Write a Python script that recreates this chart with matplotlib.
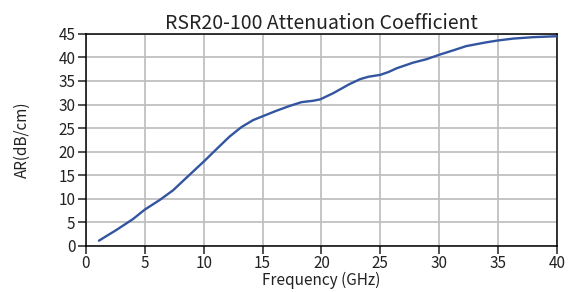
import matplotlib
matplotlib.use('Agg')
import matplotlib.pyplot as plt
import numpy as np

plt.rcParams['font.family'] = ['Noto Sans CJK SC', 'DejaVu Sans']

# curve
freq = [1.1, 2.6, 4.0, 5.0, 6.3, 7.4, 8.55, 10.05, 11.2, 12.2, 13.2, 14.2, 15.0,
        16.2, 17.3, 18.3, 19.3, 19.9, 21.0, 22.36, 23.3, 24.0, 25.0, 25.7, 26.4,
        27.8, 28.9, 30.06, 31.2, 32.3, 34.0, 35.0, 36.3, 38.0, 40.0]
ar = [1.1, 3.4, 5.7, 7.7, 9.8, 11.8, 14.5, 18.0, 20.8, 23.2, 25.2, 26.7, 27.5,
      28.7, 29.7, 30.5, 30.8, 31.1, 32.4, 34.3, 35.4, 35.9, 36.3, 36.9, 37.7,
      38.9, 39.6, 40.6, 41.5, 42.4, 43.2, 43.6, 44.0, 44.3, 44.5]
xticks = [0, 5, 10, 15, 20, 25, 30, 35, 40]
yticks = [0, 5, 10, 15, 20, 25, 30, 35, 40, 45]

fig = plt.figure(figsize=(5.77, 2.92), dpi=100)
ax = fig.add_axes([0.149, 0.158, 0.816, 0.726])

ax.plot(freq, ar, color='#3355a0', lw=1.7, solid_joinstyle='round',
        solid_capstyle='round', zorder=3)

ax.set_xlim(0, 40)
ax.set_ylim(0, 45)
ax.set_xticks(xticks)
ax.set_yticks(yticks)
ax.grid(True, color='#c0c0c0', lw=1.3)
ax.set_axisbelow(True)

for s in ax.spines.values():
    s.set_color('black')
    s.set_linewidth(1.1)
ax.tick_params(direction='out', length=5.5, width=1.1, labelsize=11, pad=2,
               colors='#222222')
ax.tick_params(axis='x', pad=1)

ax.set_title('RSR20-100 Attenuation Coefficient', fontsize=14, pad=2, color='#222222')
ax.set_xlabel('Frequency (GHz)', fontsize=11.1, labelpad=0, color='#222222')
ax.set_ylabel('AR(dB/cm)', fontsize=11, labelpad=20, color='#222222')

fig.savefig('out.png', dpi=100)
